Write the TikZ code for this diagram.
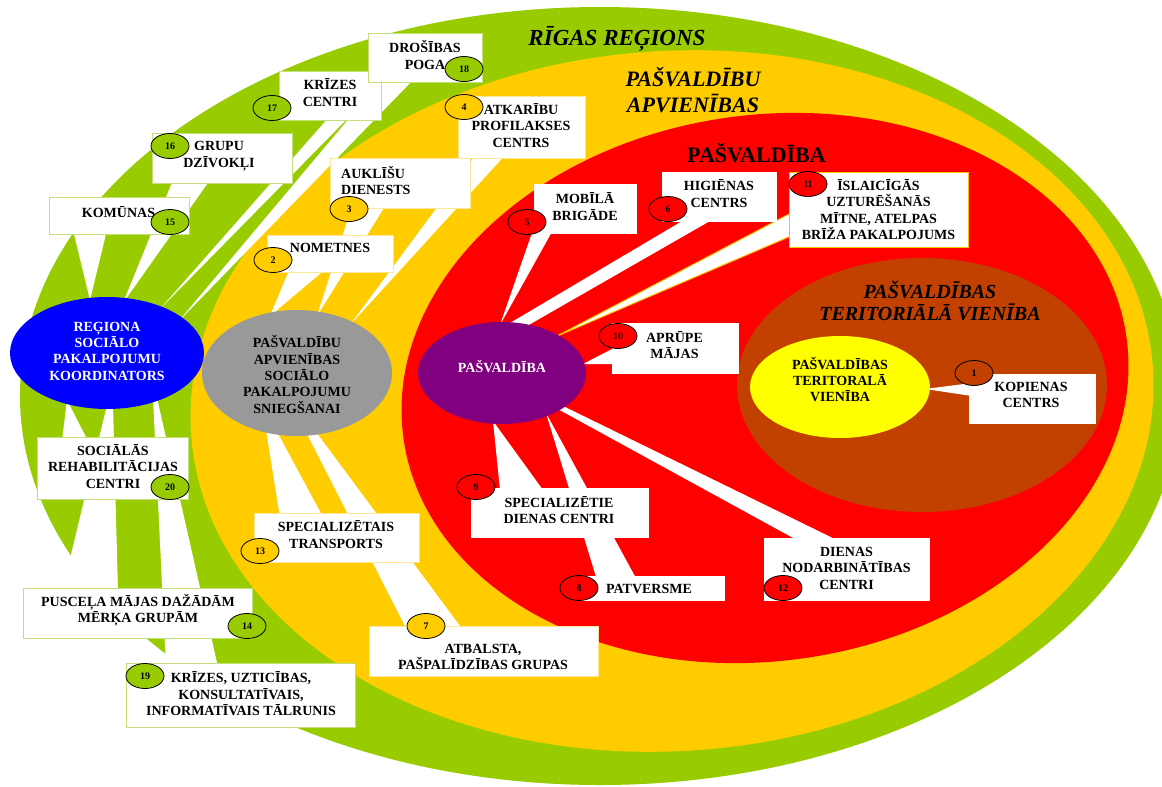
\documentclass[tikz,border=0pt]{standalone}
\usepackage{fontspec}
\setmainfont{Liberation Serif}
\usetikzlibrary{shapes.geometric}
\definecolor{cgreen}{RGB}{153,204,0}
\definecolor{cyel}{RGB}{255,204,0}
\definecolor{cred}{RGB}{255,0,0}
\definecolor{cbrown}{RGB}{194,64,0}
\definecolor{cyeltwo}{RGB}{255,255,0}
\definecolor{cblue}{RGB}{0,0,255}
\definecolor{cgray}{RGB}{153,153,153}
\definecolor{cpurple}{RGB}{128,0,128}
\definecolor{gbd}{RGB}{195,225,120}
\definecolor{ybd}{RGB}{255,230,150}
\definecolor{obd}{RGB}{255,192,0}
\begin{document}
\begin{tikzpicture}[x=1pt,y=-1pt,
  cbox/.style={fill=white, draw=#1, line width=1pt, inner sep=0pt},
  btxt/.style={font=\fontsize{14}{16.5}\selectfont\bfseries, align=center, inner sep=0pt},
  etxt/.style={font=\fontsize{14}{16.3}\selectfont\bfseries, align=center, inner sep=0pt},
  badge/.style={ellipse, draw=black, line width=0.8pt, fill=#1, minimum width=38pt, minimum height=25pt, inner sep=0pt, font=\fontsize{10}{12}\selectfont\bfseries},
  bell/.style={ellipse, fill=#1, inner sep=0pt},
  tailw/.style={fill=white}]
\useasboundingbox (0,0) rectangle (1162,787);
\fill[white] (0,0) rectangle (1162,787);
\clip (0,0) rectangle (1162,787);
% regions
\fill[cgreen] (600,396) ellipse [x radius=580pt, y radius=389pt];
\fill[cyel, rotate around={4:(672,401)}] (672,401) ellipse [x radius=482pt, y radius=350pt];
\fill[cred, rotate around={8:(765,388)}] (765,388) ellipse [x radius=365pt, y radius=273pt];
\fill[cbrown] (922,385) ellipse [x radius=185pt, y radius=127pt];
% region labels
\node[inner sep=0pt, font=\fontsize{23}{26}\selectfont\bfseries\itshape] (lrig) at (617,38.5) {RĪGAS REĢIONS};
\node[inner sep=0pt, align=center, font=\fontsize{22}{26}\selectfont\bfseries\itshape] (lapv) at (693,90) {PAŠVALDĪBU\\APVIENĪBAS};
\node[inner sep=0pt, font=\fontsize{22}{26}\selectfont\bfseries] (lpsv) at (756.5,153.5) {PAŠVALDĪBA};
\node[inner sep=0pt, align=center, font=\fontsize{20}{22}\selectfont\bfseries\itshape] (lter) at (930,301) {PAŠVALDĪBAS\\TERITORIĀLĀ VIENĪBA};
% tails - green region
\fill[tailw] (90,300) -- (73,230) -- (107,230) -- cycle;
\fill[tailw] (123,303) -- (173,180) -- (210,180) -- cycle;
\fill[tailw] (160,309) -- (330,116) -- (350,116) -- cycle;
\fill[tailw] (178,322) -- (383,78) -- (415,78) -- cycle;
\fill[tailw] (67,400) -- (62,441) -- (88,441) -- cycle;
\fill[tailw] (107,405) -- (113,405) -- (118,592) -- (62,592) -- cycle;
\fill[tailw] (153,398) -- (157,398) -- (218,667) -- (166,667) -- cycle;
% tails - yellow region
\fill[tailw] (270,316) -- (290,268) -- (327,268) -- cycle;
\fill[tailw] (317,316) -- (353,203) -- (387,203) -- cycle;
\fill[tailw] (350,325) -- (478,152) -- (508,152) -- cycle;
\fill[tailw] (266,430) -- (276,430) -- (323,517) -- (280,517) -- cycle;
\fill[tailw] (306,432) -- (316,432) -- (463,630) -- (407,630) -- cycle;
% tails - red region
\fill[tailw] (500,325) -- (533,230) -- (553,230) -- cycle;
\fill[tailw] (510,323) -- (689,217) -- (717,217) -- (520,330) -- cycle;
\filldraw[fill=white, draw=obd, line width=1pt] (555,337) -- (791,213) -- (791,236) -- cycle;
\fill[tailw] (583,364) -- (614,348) -- (614,364) -- cycle;
\fill[tailw] (493,421) -- (543,490) -- (500,490) -- cycle;
\fill[tailw] (546,413) -- (637,580) -- (597,580) -- cycle;
\fill[tailw] (560,404.5) -- (847,545) -- (806,545) -- (555,407.5) -- cycle;
% tail into small yellow ellipse
\fill[tailw] (925,389) -- (972,383) -- (972,396) -- cycle;
% central ellipses
\node[bell=cblue, minimum width=194pt, minimum height=112pt] (ecoord) at (107,353) {};
\node[etxt, text=white] (tcoord) at (107,351) {REĢIONA\\SOCIĀLO\\PAKALPOJUMU\\KOORDINATORS};
\node[bell=cgray, minimum width=190pt, minimum height=126pt] (eapv) at (297,373) {};
\node[etxt] (tapv) at (297,374.5) {PAŠVALDĪBU\\APVIENĪBAS\\SOCIĀLO\\PAKALPOJUMU\\SNIEGŠANAI};
\node[bell=cpurple, minimum width=168pt, minimum height=102pt] (epsv) at (502,373) {};
\node[etxt, text=white] (tpsv) at (502,367) {PAŠVALDĪBA};
\node[bell=cyeltwo, minimum width=180pt, minimum height=102pt] (eter) at (840,387) {};
\node[etxt] (tter) at (840,379.5) {PAŠVALDĪBAS\\TERITORALĀ\\VIENĪBA};
% boxes
\node[cbox=white, minimum width=126pt, minimum height=49pt] (b1) at (1032,398.5) {};
\node[cbox=ybd, minimum width=126pt, minimum height=37pt] (b2) at (330,253.5) {};
\node[cbox=ybd, minimum width=140pt, minimum height=50pt] (b3) at (400,183) {};
\node[cbox=ybd, minimum width=127pt, minimum height=62pt] (b4) at (521.5,127) {};
\node[cbox=white, minimum width=102pt, minimum height=49pt] (b5) at (585,208.5) {};
\node[cbox=white, minimum width=114pt, minimum height=49pt] (b6) at (719,196.5) {};
\node[cbox=ybd, minimum width=229pt, minimum height=50pt] (b7) at (483.5,651) {};
\node[cbox=white, minimum width=145pt, minimum height=24pt] (b8) at (651.5,588) {};
\node[cbox=white, minimum width=177pt, minimum height=49pt] (b9) at (559.5,512.5) {};
\node[cbox=white, minimum width=126pt, minimum height=50pt] (b10) at (675,348) {};
\node[cbox=obd, minimum width=179pt, minimum height=75pt] (b11) at (878.5,209.5) {};
\node[cbox=white, minimum width=165pt, minimum height=62pt] (b12) at (846.5,569) {};
\node[cbox=ybd, minimum width=165pt, minimum height=49pt] (b13) at (336.5,537.5) {};
\node[cbox=gbd, minimum width=229pt, minimum height=50pt] (b14) at (137.5,613) {};
\node[cbox=gbd, minimum width=140pt, minimum height=37pt] (b15) at (119,215.5) {};
\node[cbox=gbd, minimum width=140pt, minimum height=50pt] (b16) at (222,158) {};
\node[cbox=gbd, minimum width=102pt, minimum height=49pt] (b17) at (330,95.5) {};
\node[cbox=gbd, minimum width=114pt, minimum height=49pt] (b18) at (425,57.5) {};
\node[cbox=gbd, minimum width=229pt, minimum height=64pt] (b19) at (240.5,695) {};
\node[cbox=gbd, minimum width=151pt, minimum height=62pt] (b20) at (112.5,468) {};
% box texts
\node[btxt] (t1) at (1031,395) {KOPIENAS\\CENTRS};
\node[btxt] (t2) at (330,248) {NOMETNES};
\node[btxt, align=left, anchor=west] (t3) at (341,180.5) {AUKLĪŠU\\DIENESTS};
\node[btxt] (t4) at (521,125.5) {ATKARĪBU\\PROFILAKSES\\CENTRS};
\node[btxt] (t5) at (585,206.5) {MOBĪLĀ\\BRIGĀDE};
\node[btxt] (t6) at (719,193.5) {HIGIĒNAS\\CENTRS};
\node[btxt] (t7) at (483,657) {ATBALSTA,\\PAŠPALĪDZĪBAS GRUPAS};
\node[btxt] (t8) at (649,589) {PATVERSME};
\node[btxt] (t9) at (559,510) {SPECIALIZĒTIE\\DIENAS CENTRI};
\node[btxt] (t10) at (674.5,345) {APRŪPE\\MĀJAS};
\node[btxt] (t11) at (878.5,209.5) {ĪSLAICĪGĀS\\UZTURĒŠANĀS\\MĪTNE, ATELPAS\\BRĪŽA PAKALPOJUMS};
\node[btxt] (t12) at (846.5,568) {DIENAS\\NODARBINĀTĪBAS\\CENTRI};
\node[btxt] (t13) at (336,534.5) {SPECIALIZĒTAIS\\TRANSPORTS};
\node[btxt] (t14) at (138,610) {PUSCEĻA MĀJAS DAŽĀDĀM\\MĒRĶA GRUPĀM};
\node[btxt] (t15) at (118.5,212) {KOMŪNAS};
\node[btxt] (t16) at (219,156) {GRUPU\\DZĪVOKĻI};
\node[btxt] (t17) at (330,92.5) {KRĪZES\\CENTRI};
\node[btxt] (t18) at (425,55) {DROŠĪBAS\\POGA};
\node[btxt] (t19) at (241,694) {KRĪZES, UZTICĪBAS,\\KONSULTATĪVAIS,\\INFORMATĪVAIS TĀLRUNIS};
\node[btxt] (t20) at (113,466.5) {SOCIĀLĀS\\REHABILITĀCIJAS\\CENTRI};
% badges
\node[badge=cbrown] (n1) at (974,373) {1};
\node[badge=cyel] (n2) at (273,260) {2};
\node[badge=cyel] (n3) at (349,209) {3};
\node[badge=cyel] (n4) at (464,107) {4};
\node[badge=cred] (n5) at (527,222) {5};
\node[badge=cred] (n6) at (668,209) {6};
\node[badge=cyel] (n7) at (426,626) {7};
\node[badge=cred] (n8) at (579,588) {8};
\node[badge=cred] (n9) at (476,487) {9};
\node[badge=cred] (n10) at (618,336) {10};
\node[badge=cred] (n11) at (808,184) {11};
\node[badge=cred] (n12) at (783,588) {12};
\node[badge=cyel] (n13) at (260,551) {13};
\node[badge=cgreen] (n14) at (247,626) {14};
\node[badge=cgreen] (n15) at (170,222) {15};
\node[badge=cgreen] (n16) at (170,146) {16};
\node[badge=cgreen] (n17) at (272,108) {17};
\node[badge=cgreen] (n18) at (464,69) {18};
\node[badge=cgreen] (n19) at (145,676) {19};
\node[badge=cgreen] (n20) at (170,487) {20};
\end{tikzpicture}
\end{document}
